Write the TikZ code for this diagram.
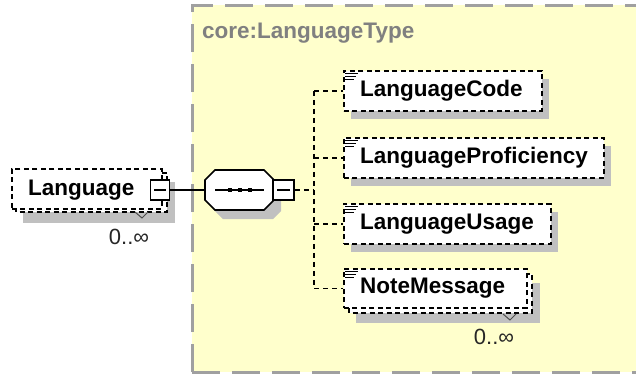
\documentclass[tikz,border=0pt]{standalone}
\usepackage{fontspec}
\setmainfont{Liberation Sans}
\definecolor{bgyellow}{RGB}{255,255,204}
\definecolor{bordergray}{RGB}{160,160,160}
\definecolor{shadowgray}{RGB}{192,192,192}
\definecolor{titlegray}{RGB}{128,128,128}
\begin{document}
\begin{tikzpicture}[x=1pt,y=-1pt,
  elemdash/.style={line width=1.6pt, dash pattern=on 5pt off 3.5pt},
  elembox/.style={draw, elemdash, fill=white, rectangle, inner sep=0pt, anchor=north west, minimum height=40pt},
  lbl/.style={font=\fontsize{22.5}{26}\selectfont\bfseries, inner sep=0pt, anchor=west},
  card/.style={font=\fontsize{22}{26}\selectfont, inner sep=0pt, text=black!85},
  conn/.style={line width=1.6pt},
  dconn/.style={line width=1.6pt, dash pattern=on 5pt off 4pt},
  minusbox/.style={draw, line width=1.6pt, fill=white, inner sep=0pt, minimum height=20pt},
  icon/.style={line width=1pt}]

\useasboundingbox (0,0) rectangle (636,375);
\fill[white] (0,0) rectangle (636,375);

% complex type box
\fill[bgyellow] (192,5) rectangle (640,372);
\draw[bordergray, line width=3pt, dash pattern=on 28pt off 12pt] (192,372) -- (192,5) -- (640,5);
\draw[bordergray, line width=3pt, dash pattern=on 28pt off 12pt] (192,372) -- (640,372);
\node[anchor=west, inner sep=0pt, text=titlegray, font=\fontsize{22.5}{26}\selectfont\bfseries] (title) at (202,33) {core:LanguageType};

% Language element (0..unbounded)
\fill[shadowgray] (23,182) rectangle (175,223);
\draw[elemdash, fill=white] (16,173) rectangle (167,212);
\node[elembox, minimum width=150pt] (lang) at (11,168) {};
\node[lbl] (langtxt) at (28,190) {Language};
\node[minusbox, minimum width=19pt] (langminus) at (160,190) {};
\draw[conn] ([xshift=-6pt]langminus.center) -- ([xshift=6pt]langminus.center);
\draw[line width=1pt, black!70] (135,212) -- (142,218) -- (148,212);
\node[card] (langcard) at (129,237) {0..∞};

% sequence compositor
\fill[shadowgray] (223,178) -- (273,178) -- (281,186) -- (281,211) -- (273,219) -- (223,219) -- (213,209) -- (213,188) -- cycle;
\node[inner sep=0pt, minimum width=68pt, minimum height=40pt] (seq) at (239,190) {};
\draw[conn, fill=white] (215,170) -- (264,170) -- (273,179) -- (273,201) -- (264,210) -- (215,210) -- (205,200) -- (205,180) -- cycle;
\draw[conn] (215,190) -- (264,190);
\foreach \sx in {230,240,250} \fill (\sx-2.2,187.8) rectangle (\sx+2.2,192.2);
\node[minusbox, minimum width=21pt] (seqminus) at (283.5,190) {};
\draw[conn] ([xshift=-6.5pt]seqminus.center) -- ([xshift=6.5pt]seqminus.center);
\draw[conn] (langminus.east) -- (seq.west);

% children
\fill[shadowgray] (351,79) rectangle (549,119);
\node[elembox, minimum width=198pt] (code) at (343,70) {};
\fill[shadowgray] (351,146) rectangle (611,186);
\node[elembox, minimum width=260pt] (prof) at (343,137) {};
\fill[shadowgray] (351,212) rectangle (558,252);
\node[elembox, minimum width=207pt] (usage) at (343,203) {};
\fill[shadowgray] (356,283) rectangle (540,323);
\draw[elemdash, fill=white] (349,274) rectangle (532,313);
\node[elembox, minimum width=183pt, minimum height=39pt] (note) at (343,268) {};
\draw[line width=1pt, black!70] (503,314) -- (510,320) -- (516,314);
\node[card] (notecard) at (494,337) {0..∞};

\foreach \nd/\tx in {code/LanguageCode, prof/LanguageProficiency, usage/LanguageUsage, note/NoteMessage}{
  \node[lbl] (\nd txt) at ([xshift=17pt]\nd.west) {\tx};
  \draw[icon] ([xshift=2pt,yshift=-3pt]\nd.north west) -- ++(13,0);
  \draw[icon] ([xshift=2pt,yshift=-6pt]\nd.north west) -- ++(11,0);
  \draw[icon] ([xshift=2pt,yshift=-9pt]\nd.north west) -- ++(9,0);
}

% connectors
\coordinate (bus) at (314,190);
\draw[dconn] (seqminus.east) -- (bus);
\draw[dconn] (bus |- code.west) -- (bus |- note.west);
\foreach \nd in {code,prof,usage,note}
  \draw[dconn] (bus |- \nd.west) -- (\nd.west);
\end{tikzpicture}
\end{document}
